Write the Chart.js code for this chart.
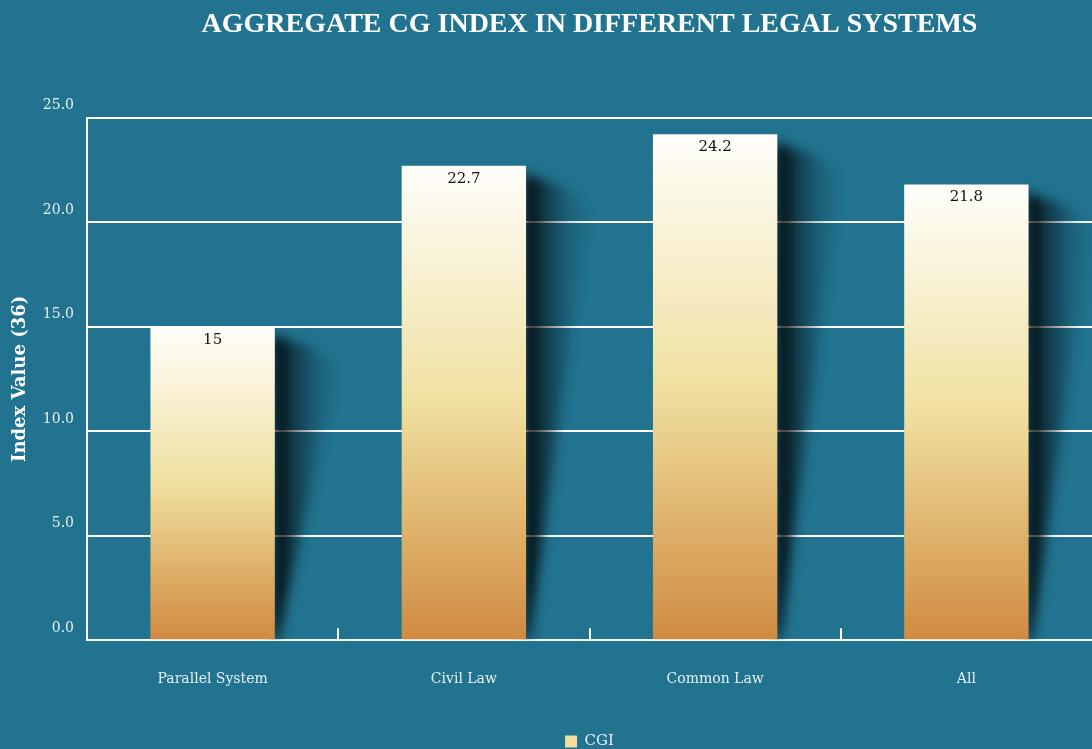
<!DOCTYPE html>
<html>
<head>
<meta charset="utf-8">
<script src="https://cdn.jsdelivr.net/npm/chart.js@4/dist/chart.umd.min.js"></script>
<style>
  html, body { margin: 0; padding: 0; background: #21738f; }
  canvas { display: block; }
</style>
</head>
<body>
<canvas id="cgChart" width="1092" height="749"></canvas>
<script>
const categories = ["Parallel System", "Civil Law", "Common Law", "All"];
const cgiValues = [15, 22.7, 24.2, 21.8];
const seriesName = "CGI";
const chartTitle = "AGGREGATE CG INDEX IN DIFFERENT LEGAL SYSTEMS";
const yAxisTitle = "Index Value (36)";

const serif = "'DejaVu Serif', 'Liberation Serif', serif";

// gradient per bar, white at the top to orange at the base
function barFill(context) {
    const chart = context.chart;
    const area = chart.chartArea;
    if (!area || context.dataIndex === undefined) return "#f0df9e";
    const y = chart.scales.y;
    const top = y.getPixelForValue(context.raw);
    const base = y.getPixelForValue(0);
    const g = chart.ctx.createLinearGradient(0, top, 0, base);
    g.addColorStop(0, "#fffefb");
    g.addColorStop(0.5, "#f0e09f");
    g.addColorStop(1, "#d08a40");
    return g;
}

// dark slanted shadow behind the right edge of each bar
const barShadow = {
    id: "barShadow",
    beforeDatasetsDraw(chart) {
        const ctx = chart.ctx;
        const area = chart.chartArea;
        const meta = chart.getDatasetMeta(0);
        ctx.save();
        ctx.beginPath();
        ctx.rect(area.left, area.top, area.right - area.left, area.bottom - area.top);
        ctx.clip();
        ctx.filter = "blur(6px)";
        meta.data.forEach(bar => {
            const right = bar.x + bar.width / 2;
            const top = bar.y;
            const base = bar.base;
            const g = ctx.createLinearGradient(right, 0, right + 70, 0);
            g.addColorStop(0, "rgba(0,0,0,0.95)");
            g.addColorStop(0.25, "rgba(0,0,0,0.5)");
            g.addColorStop(0.6, "rgba(0,0,0,0.15)");
            g.addColorStop(1, "rgba(0,0,0,0)");
            ctx.fillStyle = g;
            ctx.beginPath();
            ctx.moveTo(right - 2, top + 8);
            ctx.lineTo(right + 40, top + 22);
            ctx.lineTo(right + 62, top + 45);
            ctx.lineTo(right + 3, base);
            ctx.lineTo(right - 2, base);
            ctx.closePath();
            ctx.fill();
        });
        ctx.restore();
    }
};

// value labels at the top of the bars, short tick marks between categories
const barExtras = {
    id: "barExtras",
    afterDatasetsDraw(chart) {
        const ctx = chart.ctx;
        const meta = chart.getDatasetMeta(0);
        ctx.save();
        ctx.font = "15px " + serif;
        ctx.fillStyle = "#111";
        ctx.textAlign = "center";
        ctx.textBaseline = "middle";
        meta.data.forEach((bar, i) => {
            ctx.fillText(String(cgiValues[i]), bar.x, bar.y + 13);
        });
        const x = chart.scales.x;
        const bottom = chart.chartArea.bottom;
        ctx.strokeStyle = "#ffffff";
        ctx.lineWidth = 2;
        for (let i = 1; i < categories.length; i++) {
            const px = Math.round((x.getPixelForValue(i - 1) + x.getPixelForValue(i)) / 2);
            ctx.beginPath();
            ctx.moveTo(px, bottom);
            ctx.lineTo(px, bottom - 12);
            ctx.stroke();
        }
        ctx.restore();
    }
};

const ctx = document.getElementById("cgChart").getContext("2d");
const cgChart = new Chart(ctx, {
    type: "bar",
    data: {
        labels: categories,
        datasets: [{
            label: seriesName,
            data: cgiValues,
            backgroundColor: barFill,
            borderWidth: 0,
            categoryPercentage: 0.5,
            barPercentage: 0.99
        }]
    },
    options: {
        responsive: false,
        animation: false,
        layout: { padding: { top: 0, left: 0, right: 0, bottom: -10 } },
        plugins: {
            title: {
                display: true,
                text: chartTitle,
                fullSize: false,
                color: "#ffffff",
                font: { family: "'Liberation Serif', serif", size: 28, weight: "bold" },
                padding: { top: 8, bottom: 76 }
            },
            legend: {
                position: "bottom",
                fullSize: false,
                labels: {
                    color: "#e8eef2",
                    font: { family: serif, size: 15 },
                    boxWidth: 12,
                    boxHeight: 12,
                    padding: 15,
                    generateLabels: () => [{
                        text: seriesName,
                        fillStyle: "#f0df9e",
                        strokeStyle: "#f0df9e",
                        lineWidth: 0,
                        fontColor: "#e8eef2"
                    }]
                }
            },
            tooltip: { enabled: false }
        },
        scales: {
            x: {
                grid: { display: false, drawTicks: false },
                border: { color: "#ffffff", width: 2 },
                ticks: {
                    color: "#e8eef2",
                    font: { family: serif, size: 14 },
                    padding: 31,
                    maxRotation: 0
                }
            },
            y: {
                min: 0,
                max: 25,
                afterFit(scale) { scale.width = 87; },
                grid: { color: "#ffffff", lineWidth: 2, drawTicks: false },
                border: { color: "#ffffff", width: 2 },
                ticks: {
                    stepSize: 5,
                    color: "#e8eef2",
                    font: { family: serif, size: 14 },
                    padding: 13,
                    labelOffset: -12,
                    callback: v => Number(v).toFixed(1)
                },
                title: {
                    display: true,
                    text: yAxisTitle,
                    color: "#ffffff",
                    font: { family: serif, size: 18, weight: "bold" },
                    padding: { top: 10, bottom: 0 }
                }
            }
        }
    },
    plugins: [barShadow, barExtras]
});
</script>
</body>
</html>
